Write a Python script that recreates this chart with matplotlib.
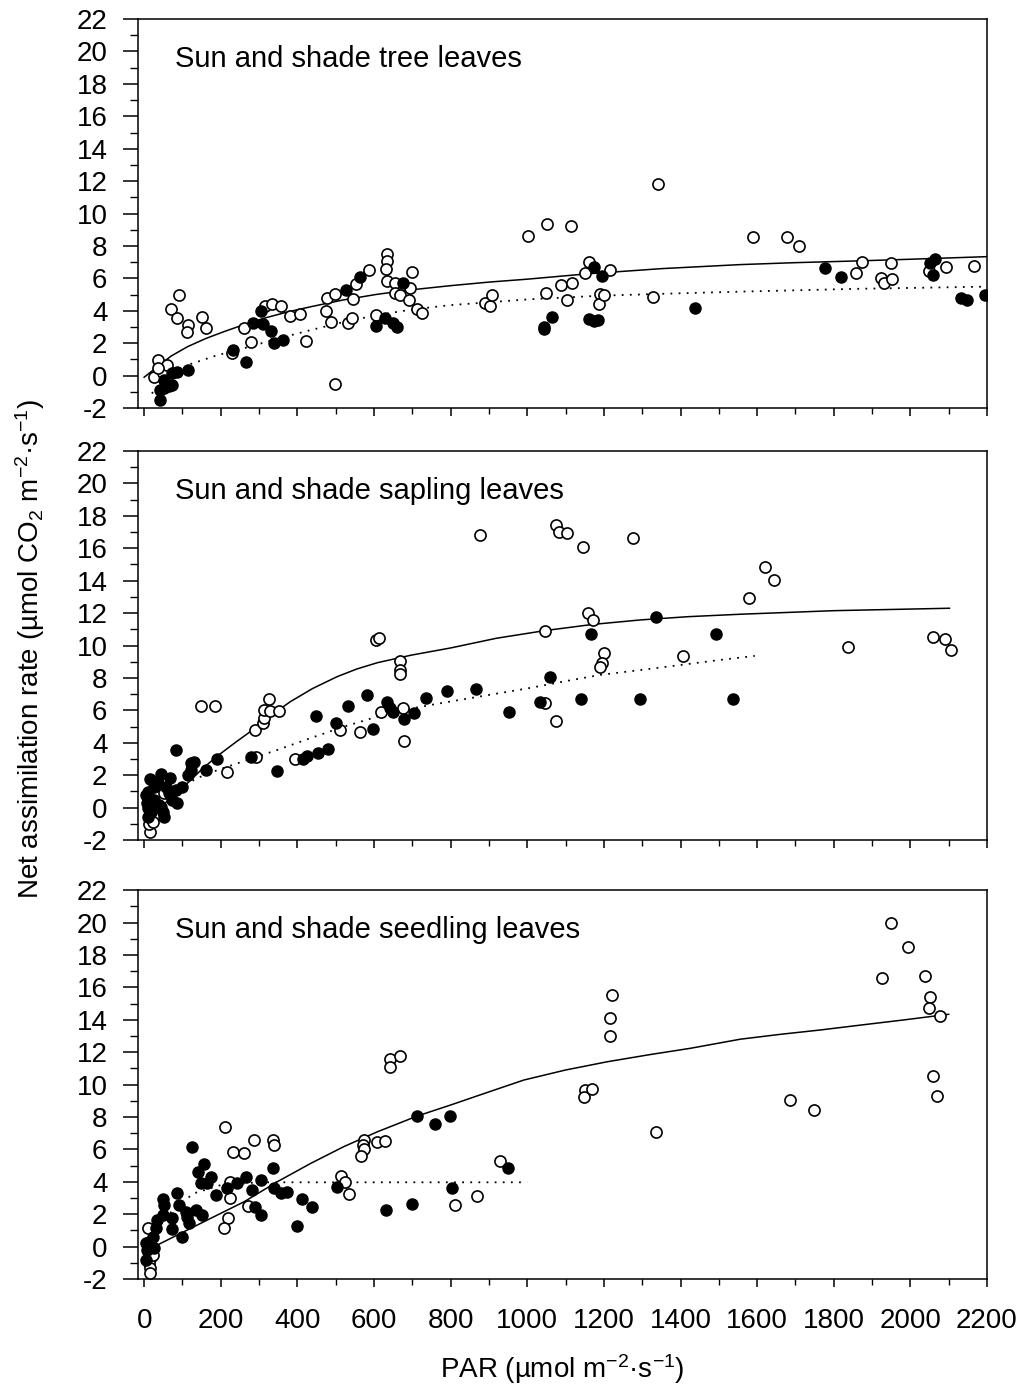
import matplotlib.pyplot as plt
import numpy as np

plt.rcParams['font.family'] = ['Liberation Sans', 'DejaVu Sans']
plt.rcParams['mathtext.default'] = 'regular'
plt.rcParams['axes.unicode_minus'] = False

# ---- Panel 1: tree leaves ----
tree_open_x = [26, 37, 48, 59, 35, 91, 69, 87, 115, 113, 150, 162, 230, 261, 278, 315, 333, 358,
               380, 407, 422, 497, 474, 478, 497, 487, 532, 543, 546, 554, 587, 606, 635, 635,
               630, 633, 656, 654, 669, 694, 691, 700, 711, 726,
               1003, 1052, 1113, 1342, 889, 902, 908, 1050, 1089, 1117, 1103, 1161, 1152, 1215,
               1191, 1187, 1200, 1329,
               1589, 1678, 1710, 1874, 1858, 1950, 1924, 1930, 1952, 2048, 2094, 2165]
tree_open_y = [-0.07, 0.96, 0.14, 0.65, 0.45, 4.97, 4.09, 3.54, 3.12, 2.71, 3.64, 2.92, 1.37, 2.96,
               2.09, 4.29, 4.4, 4.29, 3.7, 3.78, 2.15, -0.54, 3.99, 4.77, 5.04, 3.33, 3.23, 3.54,
               4.73, 5.65, 6.51, 3.74, 7.49, 7.07, 6.58, 5.86, 5.7, 5.08, 4.97, 5.43, 4.67, 6.41,
               4.11, 3.88,
               8.62, 9.38, 9.22, 11.8, 4.5, 4.32, 4.97, 5.08, 5.57, 5.7, 4.67, 7.03, 6.31, 6.52,
               5.02, 4.42, 4.97, 4.87,
               8.53, 8.53, 8.0, 6.99, 6.35, 6.97, 6.0, 5.74, 5.94, 6.47, 6.68, 6.77]
tree_fill_x = [41, 42, 52, 65, 74, 74, 87, 115, 52, 233, 267, 285, 306, 309, 330, 339, 363, 526,
               563, 604, 628, 650, 661, 676,
               1045, 1044, 1064, 1161, 1174, 1184, 1174, 1194, 1439,
               1778, 1819, 2065, 2052, 2059, 2132, 2148, 2194]
tree_fill_y = [-1.5, -0.89, -0.78, -0.64, -0.58, 0.14, 0.24, 0.35, -0.27, 1.58, 0.82, 3.23, 3.99,
               3.18, 2.75, 1.99, 2.2, 5.28, 6.07, 3.08, 3.54, 3.23, 2.98, 5.74,
               2.86, 3.0, 3.64, 3.47, 3.39, 3.43, 6.68, 6.15, 4.17,
               6.62, 6.07, 7.18, 6.93, 6.21, 4.77, 4.67, 4.97]
tree_sun_x = [0, 35, 70, 113, 160, 208, 260, 313, 370, 435, 520, 609, 700, 800, 900, 1000, 1152,
              1350, 1556, 1700, 1852, 2000, 2200]
tree_sun_y = [-0.1, 0.55, 1.2, 1.78, 2.28, 2.71, 3.14, 3.54, 3.9, 4.25, 4.67, 5.02, 5.3, 5.55,
              5.77, 5.95, 6.27, 6.6, 6.85, 6.97, 7.07, 7.18, 7.34]
tree_shade_x = [20, 60, 122, 190, 261, 350, 435, 520, 609, 700, 800, 1000, 1191, 1400, 1556,
                1850, 2200]
tree_shade_y = [-1.1, -0.2, 0.72, 1.25, 1.69, 2.29, 2.81, 3.3, 3.74, 4.08, 4.35, 4.7, 4.93, 5.08,
                5.18, 5.35, 5.49]

# ---- Panel 2: sapling leaves ----
sap_open_x = [149, 185, 217, 289, 309, 313, 327, 314, 328, 352, 293, 395, 512, 563, 606, 613,
              619, 668, 668, 668, 676, 678, 15, 13, 22, 52,
              876, 1074, 1083, 1103, 1145, 1276, 1159, 1172, 1046, 1200, 1194, 1191, 1406,
              1046, 1076,
              1620, 1643, 1578, 1837, 2058, 2091, 2107]
sap_open_y = [6.27, 6.27, 2.22, 4.79, 5.2, 5.51, 6.7, 6.02, 5.96, 5.98, 3.14, 2.98, 4.79, 4.69,
              10.35, 10.45, 5.92, 9.05, 8.49, 8.25, 6.13, 4.13, -1.49, -1.01, -0.87, 0.88,
              16.83, 17.44, 17.03, 16.93, 16.1, 16.66, 11.99, 11.58, 10.9, 9.52, 8.91, 8.66,
              9.38, 6.44, 5.35,
              14.83, 14.05, 12.96, 9.93, 10.55, 10.39, 9.73]
sap_fill_x = [84, 122, 130, 122, 115, 161, 189, 278, 348, 415, 426, 455, 480, 448, 502, 532, 581,
              598, 634, 650, 643, 678, 704, 735, 791,
              15, 43, 68, 10, 7, 9, 26, 38, 52, 48, 65, 82, 87, 100, 26, 35, 56, 17, 74, 4,
              43, 9,
              865, 952, 1033, 1060, 1141, 1167, 1294, 1335, 1493, 1536]
sap_fill_y = [3.56, 2.73, 2.83, 2.32, 2.01, 2.32, 2.98, 3.1, 2.28, 2.98, 3.19, 3.35, 3.62, 5.67,
              5.24, 6.27, 6.95, 4.83, 6.54, 5.92, 6.13, 5.45, 5.82, 6.78, 7.2,
              1.75, 2.07, 1.81, 0.98, 0.3, -0.04, 0.47, 0.16, -0.56, -0.25, 0.88, 1.09, 0.27,
              1.29, 1.29, 1.5, 1.29, -0.25, 0.47, 0.78, 0.06, -0.56,
              7.32, 5.88, 6.54, 8.08, 6.7, 10.72, 6.7, 11.78, 10.7, 6.7]
sap_sun_x = [10, 60, 113, 150, 191, 240, 289, 335, 382, 440, 504, 555, 609, 696, 800, 920, 1046,
             1170, 1296, 1420, 1556, 1800, 2102]
sap_sun_y = [-0.9, 0.4, 1.5, 2.35, 3.18, 4.05, 4.89, 5.75, 6.54, 7.35, 8.08, 8.55, 8.94, 9.4,
             9.85, 10.45, 10.92, 11.3, 11.58, 11.78, 11.93, 12.15, 12.3]
sap_shade_x = [10, 60, 113, 160, 217, 280, 348, 430, 521, 652, 774, 900, 1000, 1100, 1191,
               1300, 1400, 1500, 1594]
sap_shade_y = [-0.5, 0.6, 1.5, 2.05, 2.52, 3.02, 3.56, 4.25, 4.99, 5.92, 6.44, 6.95, 7.35, 7.8,
               8.19, 8.5, 8.8, 9.1, 9.36]

# ---- Panel 3: seedling leaves ----
seed_open_x = [211, 287, 337, 339, 233, 261, 223, 219, 208, 271, 223, 642, 642, 667, 574, 571,
               574, 565, 609, 628, 513, 524, 536, 10, 17, 13, 15, 15, 22,
               1217, 1150, 1148, 1168, 1337, 928, 868, 811, 1220, 1217,
               1949, 1994, 1927, 2039, 2052, 2048, 2078, 2058, 2070, 1687, 1749]
seed_open_y = [7.36, 6.58, 6.58, 6.27, 5.82, 5.8, 2.98, 1.75, 1.17, 2.52, 3.97, 11.58, 11.1,
               11.78, 6.58, 6.27, 6.0, 5.61, 6.48, 6.52, 4.38, 4.01, 3.23, 1.13, -0.62, -1.03,
               -1.34, -1.61, -0.52,
               13.0, 9.67, 9.25, 9.75, 7.09, 5.28, 3.14, 2.57, 15.5, 14.1,
               19.96, 18.48, 16.56, 16.7, 15.39, 14.71, 14.23, 10.55, 9.3, 9.05, 8.43]
seed_fill_x = [126, 155, 141, 174, 148, 165, 87, 50, 52, 91, 187, 217, 242, 265, 304, 282, 337,
               339, 356, 374, 289, 304, 398, 411, 437, 504, 630, 700, 711, 759, 798,
               33, 30, 48, 74, 74, 100, 113, 117, 135, 152, 4, 7, 4, 26, 22, 13, 109,
               949, 804]
seed_fill_y = [6.13, 5.08, 4.62, 4.31, 3.91, 3.91, 3.29, 2.92, 2.57, 2.57, 3.19, 3.6, 3.91, 4.31,
               4.11, 3.49, 4.87, 3.6, 3.29, 3.39, 2.46, 1.95, 1.29, 2.92, 2.46, 3.66, 2.26,
               2.63, 8.06, 7.57, 8.06,
               1.64, 1.13, 1.95, 1.75, 1.07, 0.61, 1.85, 1.44, 2.26, 1.95, 0.2, -0.21, -0.83,
               -0.1, 0.61, 0.3, 2.16,
               4.87, 3.6]
seed_sun_x = [10, 26, 87, 174, 261, 348, 435, 521, 609, 713, 800, 900, 991, 1100, 1209, 1320,
              1426, 1556, 1660, 1765, 1880, 1983, 2100]
seed_sun_y = [-1.0, 0.0, 0.72, 1.75, 2.77, 4.01, 5.14, 6.17, 7.09, 8.06, 8.74, 9.55, 10.28,
              10.9, 11.41, 11.85, 12.24, 12.8, 13.1, 13.37, 13.7, 13.99, 14.34]
seed_shade_x = [5, 30, 80, 130, 200, 300, 1000]
seed_shade_y = [-0.5, 1.0, 2.4, 3.29, 3.8, 3.97, 3.97]

titles = ["Sun and shade tree leaves", "Sun and shade sapling leaves",
          "Sun and shade seedling leaves"]
x_ticks = np.arange(0, 2201, 200)
y_ticks = np.arange(-2, 23, 2)

panels = [
    (tree_open_x, tree_open_y, tree_fill_x, tree_fill_y,
     tree_sun_x, tree_sun_y, tree_shade_x, tree_shade_y),
    (sap_open_x, sap_open_y, sap_fill_x, sap_fill_y,
     sap_sun_x, sap_sun_y, sap_shade_x, sap_shade_y),
    (seed_open_x, seed_open_y, seed_fill_x, seed_fill_y,
     seed_sun_x, seed_sun_y, seed_shade_x, seed_shade_y),
]

fig = plt.figure(figsize=(10.17, 13.93), dpi=100, facecolor='white')
left, width = 0.1357, 0.8348
bottoms = [0.7071, 0.3970, 0.0818]
height = 0.2792

for i, (ox, oy, fx, fy, sx, sy, dx, dy) in enumerate(panels):
    ax = fig.add_axes([left, bottoms[i], width, height])

    ax.plot(sx, sy, color='black', linewidth=1.1, zorder=2)
    ax.plot(dx, dy, color='black', linewidth=1.3, linestyle=(0, (1, 3.5)), zorder=2)

    ax.plot(ox, oy, 'o', markersize=8, markerfacecolor='white', markeredgecolor='black',
            markeredgewidth=1.2, linestyle='none', zorder=3)
    ax.plot(fx, fy, 'o', markersize=8, markerfacecolor='black', markeredgecolor='black',
            markeredgewidth=1.0, linestyle='none', zorder=4)

    ax.set_xlim(-16, 2200)
    ax.set_ylim(-2, 22)

    ax.set_yticks(y_ticks)
    ax.set_yticks(np.arange(-2, 23, 1), minor=True)
    ax.set_xticks(x_ticks)
    ax.set_xticks(np.arange(0, 2201, 100), minor=True)

    ax.tick_params(axis='y', which='major', direction='out', length=11, width=1.1,
                   labelsize=20, pad=11)
    ax.tick_params(axis='y', which='minor', direction='out', length=5.5, width=1.0)
    ax.tick_params(axis='x', which='major', direction='out', length=6, width=1.1,
                   labelsize=20, pad=15)
    ax.tick_params(axis='x', which='minor', direction='out', length=4, width=1.0)

    if i < 2:
        ax.set_xticklabels([])

    for s in ax.spines.values():
        s.set_linewidth(1.1)

    ax.text(0.0436, 0.897, titles[i], transform=ax.transAxes, fontsize=21,
            ha='left', va='center')

ax.set_xlabel("PAR (\u00b5mol m$^{-2}$\u00b7s$^{-1}$)", fontsize=20, labelpad=13)

fig.text(0.03, 0.534, "Net assimilation rate (\u00b5mol CO$_2$ m$^{-2}$\u00b7s$^{-1}$)",
         rotation=90, fontsize=20, ha='center', va='center')

plt.savefig('out.png', dpi=100)
